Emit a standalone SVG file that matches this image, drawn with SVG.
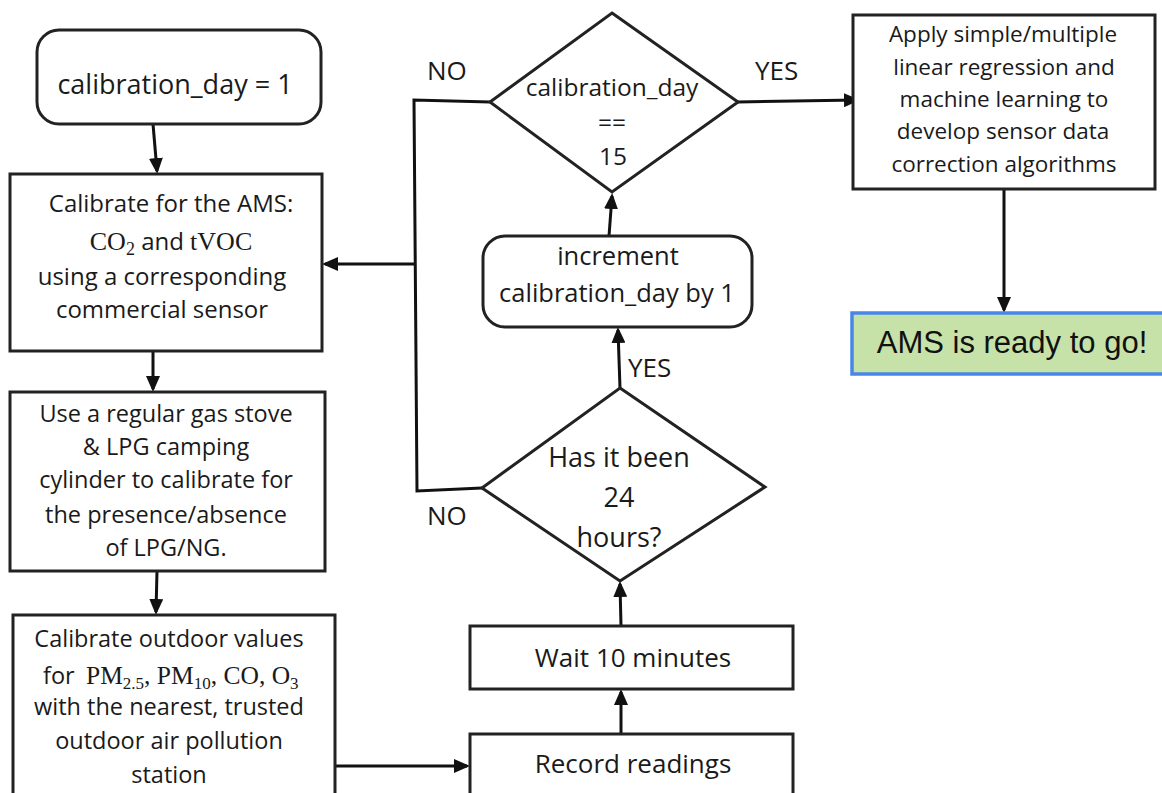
<svg xmlns="http://www.w3.org/2000/svg" width="1162" height="793" viewBox="0 0 1162 793">
<style>
.bx{fill:#fff;stroke:#222;stroke-width:3}
.t{font-family:"Open Sans","Noto Sans",sans-serif;fill:#1a1a1a;text-anchor:middle}
.m{font-family:"Liberation Serif","DejaVu Serif",serif}
.s{text-anchor:start}
.lb{font-family:"Open Sans","Noto Sans",sans-serif;fill:#1a1a1a;font-size:26px}
.c{fill:none;stroke:#111;stroke-width:3}
.a{marker-end:url(#ah)}
</style>
<defs>
<marker id="ah" viewBox="0 0 16 14" refX="13" refY="7" markerWidth="16" markerHeight="14" markerUnits="userSpaceOnUse" orient="auto">
<path d="M0,0 L16,7 L0,14 z" fill="#111"/>
</marker>
</defs>
<rect width="1162" height="793" fill="#fff"/>

<g id="connectors">
<path class="c a" d="M153 124 L157 171"/>
<path class="c a" d="M153 352 L153 389"/>
<path class="c a" d="M157 571 L156 612"/>
<path class="c a" d="M335 766 L467 766"/>
<path class="c a" d="M621 734 L621 692"/>
<path class="c a" d="M621 626 L620 584"/>
<path class="c a" d="M620 388 L618 330"/>
<path class="c a" d="M609 236 L612 196"/>
<path class="c a" d="M738 102 L857 100"/>
<path class="c a" d="M1004 189 L1004 310"/>
<path class="c" d="M490 102 L414 100 L417 491 L482 488"/>
<path class="c a" d="M414 264 L325 264"/>
<text class="lb" x="427" y="80">NO</text>
<text class="lb" x="755" y="80">YES</text>
<text class="lb" x="628" y="377">YES</text>
<text class="lb" x="427" y="525">NO</text>
</g>

<g id="start">
<rect class="bx" x="37" y="30" width="284" height="94" rx="22"/>
<text class="t" x="175" y="94" font-size="27">calibration_day = 1</text>
</g>

<g id="calib-ams">
<rect class="bx" x="10" y="174" width="312" height="177"/>
<text class="t" x="171" y="212" font-size="24">Calibrate for the AMS:</text>
<text class="t" x="171" y="250" font-size="24"><tspan class="m" font-size="26">CO</tspan><tspan class="m" font-size="18" dy="5">2</tspan><tspan dy="-5"> and </tspan><tspan class="m" font-size="26">tVOC</tspan></text>
<text class="t" x="162" y="285" font-size="24">using a corresponding</text>
<text class="t" x="162" y="318" font-size="24">commercial sensor</text>
</g>

<g id="calib-lpg">
<rect class="bx" x="10" y="392" width="315" height="179"/>
<text class="t" x="166" y="422" font-size="23.5">Use a regular gas stove</text>
<text class="t" x="166" y="455" font-size="23.5">&amp; LPG camping</text>
<text class="t" x="166" y="488" font-size="23.5">cylinder to calibrate for</text>
<text class="t" x="166" y="523" font-size="23.5">the presence/absence</text>
<text class="t" x="166" y="556" font-size="23.5">of LPG/NG.</text>
</g>

<g id="calib-outdoor">
<rect class="bx" x="13" y="615" width="322" height="190"/>
<text class="t" x="169" y="647" font-size="23.5">Calibrate outdoor values</text>
<text class="t s" x="43" y="684" font-size="23.5">for</text>
<text class="t m s" x="86" y="684" font-size="25.5">PM<tspan font-size="17" dy="5">2.5</tspan><tspan dy="-5">, PM</tspan><tspan font-size="17" dy="5">10</tspan><tspan dy="-5">, CO, O</tspan><tspan font-size="17" dy="5">3</tspan></text>
<text class="t" x="169" y="715" font-size="23.5">with the nearest, trusted</text>
<text class="t" x="169" y="749" font-size="23.5">outdoor air pollution</text>
<text class="t" x="169" y="783" font-size="23.5">station</text>
</g>

<g id="record">
<rect class="bx" x="470" y="734" width="323" height="70"/>
<text class="t" x="633" y="773" font-size="26">Record readings</text>
</g>

<g id="wait">
<rect class="bx" x="470" y="626" width="323" height="63"/>
<text class="t" x="633" y="667" font-size="26">Wait 10 minutes</text>
</g>

<g id="decision-24h">
<polygon class="bx" points="620,388 765,487 620,581 482,488"/>
<text class="t" x="619" y="467" font-size="27">Has it been</text>
<text class="t" x="619" y="507" font-size="27">24</text>
<text class="t" x="619" y="547" font-size="27">hours?</text>
</g>

<g id="increment">
<rect class="bx" x="483" y="236" width="269" height="91" rx="22"/>
<text class="t" x="618" y="265" font-size="25.5">increment</text>
<text class="t" x="617" y="302" font-size="25.5">calibration_day by 1</text>
</g>

<g id="decision-15">
<polygon class="bx" points="612,13 738,102 612,192 490,102"/>
<text class="t" x="612" y="96" font-size="24.5">calibration_day</text>
<text class="t" x="612" y="131" font-size="24.5">==</text>
<text class="t" x="613" y="165" font-size="24.5">15</text>
</g>

<g id="regression">
<rect class="bx" x="853" y="15" width="302" height="174"/>
<text class="t" x="1003" y="42" font-size="22.5">Apply simple/multiple</text>
<text class="t" x="1004" y="75" font-size="22.5">linear regression and</text>
<text class="t" x="1004" y="107" font-size="22.5">machine learning to</text>
<text class="t" x="1003" y="139" font-size="22.5">develop sensor data</text>
<text class="t" x="1004" y="172" font-size="22.5">correction algorithms</text>
</g>

<g id="ready">
<rect x="852" y="313" width="320" height="61" fill="#c6e2a9" stroke="#4a86e8" stroke-width="3.5"/>
<text x="1012" y="353" font-family="'Liberation Sans',Arial,sans-serif" font-size="31" fill="#111" text-anchor="middle">AMS is ready to go!</text>
</g>
</svg>
